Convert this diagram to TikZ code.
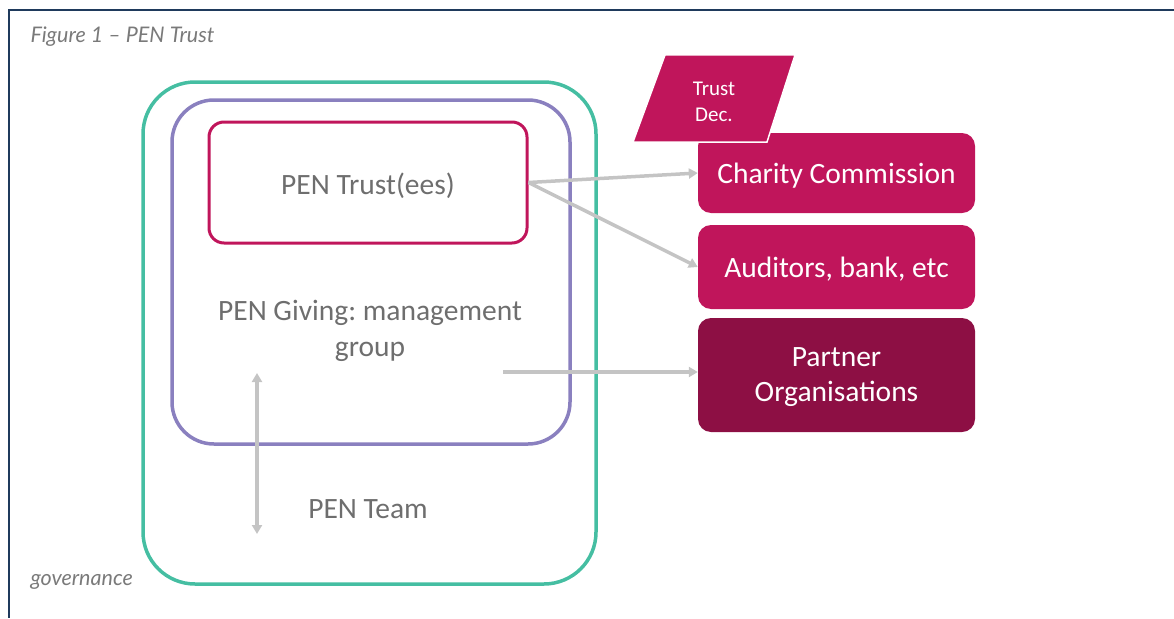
\documentclass[tikz,border=0pt]{standalone}
\usepackage{fontspec}
\setmainfont{Carlito}
\newfontfamily\capfont{Lato}
\usetikzlibrary{arrows.meta,shapes.geometric}
\definecolor{frameblue}{HTML}{1F3A5C}
\definecolor{capgray}{HTML}{7A7A7A}
\definecolor{txtgray}{HTML}{6E6E6E}
\definecolor{tealc}{HTML}{45BEA2}
\definecolor{purplec}{HTML}{8A80BF}
\definecolor{crimson}{HTML}{C0155B}
\definecolor{darkcrimson}{HTML}{8D0F44}
\definecolor{arrgray}{HTML}{C4C4C4}
\tikzset{
  redbox/.style={fill=crimson, rounded corners=13pt, text=white, font=\fontsize{29.5}{35}\selectfont, minimum width=277pt, align=center, text depth=0pt},
  graytxt/.style={text=txtgray, font=\fontsize{29.5}{36}\selectfont, align=center},
  captxt/.style={text=capgray, font=\capfont\itshape\fontsize{21.5}{24}\selectfont, anchor=base west},
  garrow/.style={draw=arrgray, line width=3.5pt, -{Triangle[length=9pt,width=10pt]}},
}
\begin{document}
\frenchspacing
\begin{tikzpicture}[x=1pt,y=-1pt]
\useasboundingbox (0,0) rectangle (1174,618);
% frame
\draw[frameblue, line width=2pt] (1174,10) -- (9,10) -- (9,618);
\node[captxt] (cap) at (27,42) {Figure 1 – PEN Trust};
\node[captxt] (gov) at (27,585) {governance};
% containers
\node[draw=tealc, line width=3.5pt, rounded corners=52pt, minimum width=453pt, minimum height=502pt, inner sep=0pt] (team) at (369.5,333) {};
\node[draw=purplec, line width=3.5pt, rounded corners=42pt, minimum width=398pt, minimum height=344pt, inner sep=0pt] (giving) at (371,272) {};
\node[draw=crimson, line width=3pt, rounded corners=15pt, minimum width=318pt, minimum height=121pt, inner sep=0pt] (trust) at (368,182.5) {};
% texts
\node[graytxt] (trusttxt) at (368,186) {PEN Trust(ees)};
\node[graytxt] (givingtxt) at (370,331) {PEN Giving: management\\group};
\node[graytxt] (teamtxt) at (368,509) {PEN Team};
% right boxes
\node[redbox, minimum height=80pt] (charity) at (836.5,173) {Charity Commission};
\node[redbox, minimum height=84pt] (aud) at (836.5,267) {Auditors, bank, etc};
\node[redbox, fill=darkcrimson, minimum height=114pt] (partner) at (836.5,375) {Partner\\Organisations};
% trust deed parallelogram
\draw[fill=crimson, draw=white, line width=1.5pt] (665,55) -- (795,55) -- (767,142) -- (633,142) -- cycle;
\node[text=white, font=\fontsize{21}{26}\selectfont, align=center] (deed) at (714,102) {Trust\\Dec.};
% arrows
\draw[garrow] (trust.east) -- (charity.west);
\draw[garrow] (trust.east) -- (aud.west);
\coordinate (pstart) at (503,372);
\draw[garrow] (pstart) -- (partner.west |- pstart);
\coordinate (vtop) at (257,373);
\coordinate (vbot) at (257,534);
\draw[draw=arrgray, line width=3.5pt, {Triangle[length=9pt,width=10pt]}-{Triangle[length=9pt,width=10pt]}] (vtop) -- (vbot);
\end{tikzpicture}
\end{document}
